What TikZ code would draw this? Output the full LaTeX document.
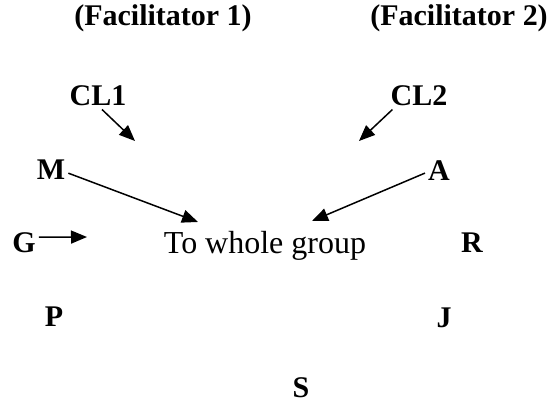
\documentclass[tikz,border=0pt]{standalone}
\usepackage{fontspec}
\setmainfont{Liberation Serif}
\usetikzlibrary{arrows.meta}
\begin{document}
\begin{tikzpicture}[x=1pt,y=-1pt,
  lbl/.style={font=\fontsize{30}{36}\selectfont\bfseries, inner sep=3pt, anchor=base},
  arr/.style={-{Triangle[length=16pt,width=13pt]}, line width=1.5pt}]
  \useasboundingbox (0,0) rectangle (555,404);

  \node[lbl] (fac1) at (163,26) {(Facilitator 1)};
  \node[lbl] (fac2) at (459,26) {(Facilitator 2)};

  \foreach \n/\t/\x/\y in {cl1/CL1/98/106, cl2/CL2/419/106, m/M/51/179, a/A/439/180,
                           g/G/24/252, r/R/472/252, p/P/54/326, j/J/444/327, s/S/301/397}
    \node[lbl] (\n) at (\x,\y) {\t};

  \node[font=\fontsize{32}{38}\selectfont, anchor=base] (grp) at (265,253) {To whole group};

  \coordinate (cl1end) at (135,141);
  \coordinate (cl2end) at (359,141);
  \coordinate (mend) at (198,222);
  \coordinate (aend) at (312,221);
  \coordinate (gend) at (87,237);

  \draw[arr] ([xshift=4pt]cl1.south) -- (cl1end);
  \draw[arr] ([xshift=5pt]cl2.south west) -- (cl2end);
  \draw[arr] ([yshift=-4pt]m.east) -- (mend);
  \draw[arr] ([yshift=-3pt]a.west) -- (aend);
  \draw[arr] ([yshift=5pt]g.east) -- (gend);
\end{tikzpicture}
\end{document}
